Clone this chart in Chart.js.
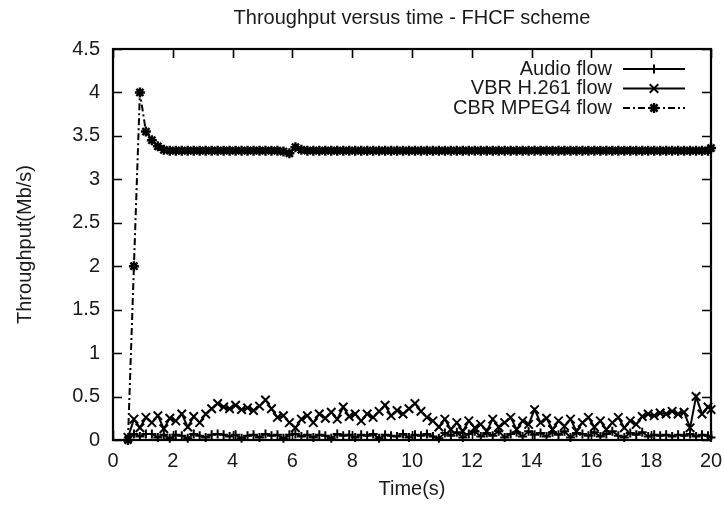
<!DOCTYPE html>
<html>
<head>
<meta charset="utf-8">
<script src="https://cdn.jsdelivr.net/npm/chart.js@4/dist/chart.umd.min.js"></script>
<style>
  html, body { margin: 0; padding: 0; background: #fff; }
  canvas { display: block; }
</style>
</head>
<body>
<canvas id="c" width="724" height="505"></canvas>
<script>
// ---- data ----
const chartTitle = 'Throughput versus time - FHCF scheme';
const xTitle = 'Time(s)';
const yTitle = 'Throughput(Mb/s)';
const seriesNames = ['Audio flow', 'VBR H.261 flow', 'CBR MPEG4 flow'];

const times = [
  0.5,0.7,0.9,1.1,1.3,1.5,1.7,1.9,2.1,2.3,
  2.5,2.7,2.9,3.1,3.3,3.5,3.7,3.9,4.1,4.3,
  4.5,4.7,4.9,5.1,5.3,5.5,5.7,5.9,6.1,6.3,
  6.5,6.7,6.9,7.1,7.3,7.5,7.7,7.9,8.1,8.3,
  8.5,8.7,8.9,9.1,9.3,9.5,9.7,9.9,10.1,10.3,
  10.5,10.7,10.9,11.1,11.3,11.5,11.7,11.9,12.1,12.3,
  12.5,12.7,12.9,13.1,13.3,13.5,13.7,13.9,14.1,14.3,
  14.5,14.7,14.9,15.1,15.3,15.5,15.7,15.9,16.1,16.3,
  16.5,16.7,16.9,17.1,17.3,17.5,17.7,17.9,18.1,18.3,
  18.5,18.7,18.9,19.1,19.3,19.5,19.7,19.9,20.0
];

const audioFlow = [
  0.00,0.07,0.04,0.07,0.07,0.03,0.06,0.02,0.06,0.05,
  0.02,0.07,0.05,0.03,0.06,0.07,0.06,0.04,0.06,0.02,
  0.05,0.06,0.03,0.07,0.05,0.06,0.02,0.06,0.07,0.04,
  0.06,0.03,0.06,0.05,0.02,0.07,0.05,0.06,0.03,0.06,
  0.05,0.07,0.02,0.06,0.05,0.04,0.07,0.03,0.06,0.05,
  0.07,0.04,0.02,0.08,0.05,0.09,0.03,0.07,0.10,0.04,
  0.08,0.05,0.10,0.03,0.07,0.09,0.04,0.10,0.06,0.08,
  0.04,0.09,0.06,0.10,0.03,0.08,0.07,0.05,0.09,0.04,
  0.07,0.10,0.05,0.03,0.08,0.06,0.09,0.04,0.06,0.05,
  0.06,0.04,0.06,0.05,0.07,0.04,0.06,0.05,0.03
];

const vbrFlow = [
  0.03,0.24,0.14,0.26,0.20,0.28,0.13,0.25,0.22,0.30,
  0.15,0.27,0.20,0.30,0.36,0.42,0.38,0.36,0.40,0.35,
  0.37,0.34,0.39,0.46,0.36,0.26,0.28,0.20,0.14,0.24,
  0.28,0.20,0.30,0.25,0.32,0.24,0.38,0.27,0.30,0.22,
  0.30,0.26,0.33,0.40,0.28,0.34,0.30,0.36,0.42,0.33,
  0.26,0.22,0.15,0.24,0.12,0.20,0.10,0.22,0.14,0.18,
  0.10,0.24,0.15,0.20,0.26,0.12,0.22,0.18,0.35,0.20,
  0.25,0.12,0.22,0.16,0.24,0.10,0.20,0.26,0.15,0.22,
  0.12,0.20,0.26,0.14,0.22,0.18,0.27,0.30,0.28,0.31,
  0.30,0.33,0.30,0.32,0.14,0.50,0.30,0.38,0.35
];

const cbrFlow = [
  0.00,2.00,4.00,3.55,3.45,3.38,3.34,3.33,3.33,3.33,
  3.33,3.33,3.33,3.33,3.33,3.33,3.33,3.33,3.33,3.33,
  3.33,3.33,3.33,3.33,3.33,3.33,3.32,3.30,3.37,3.34,
  3.33,3.33,3.33,3.33,3.33,3.33,3.33,3.33,3.33,3.33,
  3.33,3.33,3.33,3.33,3.33,3.33,3.33,3.33,3.33,3.33,
  3.33,3.33,3.33,3.33,3.33,3.33,3.33,3.33,3.33,3.33,
  3.33,3.33,3.33,3.33,3.33,3.33,3.33,3.33,3.33,3.33,
  3.33,3.33,3.33,3.33,3.33,3.33,3.33,3.33,3.33,3.33,
  3.33,3.33,3.33,3.33,3.33,3.33,3.33,3.33,3.33,3.33,
  3.33,3.33,3.33,3.33,3.33,3.33,3.33,3.33,3.36
];

const xMin = 0, xMax = 20, xStep = 2;
const yMin = 0, yMax = 4.5, yStep = 0.5;

// ---- chart ----
const FONT = "'Liberation Sans', Arial, Helvetica, sans-serif";
const TEXT = '#1a1a1a';
const pts = (vals) => vals.map((v, i) => ({ x: times[i], y: v }));
const fmt = (v) => String(Math.round(v * 100) / 100);

function drawMarker(ctx, style, x, y, r) {
  ctx.beginPath();
  if (style === 'cross' || style === 'star') {
    ctx.moveTo(x - r, y); ctx.lineTo(x + r, y);
    ctx.moveTo(x, y - r); ctx.lineTo(x, y + r);
  }
  if (style === 'crossRot' || style === 'star') {
    const d = r * 0.71;
    ctx.moveTo(x - d, y - d); ctx.lineTo(x + d, y + d);
    ctx.moveTo(x - d, y + d); ctx.lineTo(x + d, y - d);
  }
  ctx.stroke();
}

const framePlugin = {
  id: 'gnuFrame',
  afterDatasetsDraw(chart) {
    const { ctx, chartArea: a, scales } = chart;
    const xs = scales.x, ys = scales.y;
    ctx.save();
    ctx.strokeStyle = '#000';
    ctx.setLineDash([]);
    // inward ticks on all four sides
    ctx.lineWidth = 1.6;
    const tl = 9;
    ctx.beginPath();
    xs.ticks.forEach(t => {
      const px = Math.round(xs.getPixelForValue(t.value)) + 0.5;
      ctx.moveTo(px, a.bottom); ctx.lineTo(px, a.bottom - tl);
      ctx.moveTo(px, a.top); ctx.lineTo(px, a.top + tl);
    });
    ys.ticks.forEach(t => {
      const py = Math.round(ys.getPixelForValue(t.value)) + 0.5;
      ctx.moveTo(a.left, py); ctx.lineTo(a.left + tl, py);
      ctx.moveTo(a.right, py); ctx.lineTo(a.right - tl, py);
    });
    ctx.stroke();
    // border box
    ctx.lineWidth = 2.2;
    ctx.strokeRect(a.left, a.top, a.right - a.left, a.bottom - a.top);

    // legend (text right-aligned, sample on the right)
    const textRight = a.right - 99;
    const sx1 = a.right - 88, sx2 = a.right - 26;
    let ly = a.top + 20;
    ctx.font = '20px ' + FONT;
    ctx.textAlign = 'right';
    ctx.textBaseline = 'middle';
    chart.data.datasets.forEach(ds => {
      ctx.fillStyle = TEXT;
      ctx.fillText(ds.label, textRight, ly);
      ctx.strokeStyle = '#000';
      ctx.lineWidth = ds.borderWidth;
      ctx.setLineDash(ds.borderDash || []);
      ctx.beginPath(); ctx.moveTo(sx1, ly); ctx.lineTo(sx2, ly); ctx.stroke();
      ctx.setLineDash([]);
      ctx.lineWidth = ds.pointBorderWidth;
      drawMarker(ctx, ds.pointStyle, (sx1 + sx2) / 2, ly, ds.pointRadius);
      ly += 19.5;
    });
    ctx.restore();
  }
};

const commonDs = {
  borderColor: '#000',
  backgroundColor: '#000',
  pointBorderColor: '#000',
  pointBackgroundColor: 'rgba(0,0,0,0)',
  borderWidth: 2,
  pointBorderWidth: 2,
  pointRadius: 4.5,
  tension: 0,
  clip: false
};

new Chart(document.getElementById('c'), {
  type: 'line',
  data: {
    datasets: [
      Object.assign({}, commonDs, { label: seriesNames[0], data: pts(audioFlow), pointStyle: 'cross' }),
      Object.assign({}, commonDs, { label: seriesNames[1], data: pts(vbrFlow), pointStyle: 'crossRot', pointRadius: 6 }),
      Object.assign({}, commonDs, { label: seriesNames[2], data: pts(cbrFlow), pointStyle: 'star', pointRadius: 5, pointBorderWidth: 2.4, borderDash: [7, 3, 2, 3] })
    ]
  },
  options: {
    responsive: false,
    animation: false,
    devicePixelRatio: 1,
    layout: { padding: { left: 0, right: 13, top: 0, bottom: 0 } },
    plugins: {
      legend: { display: false },
      tooltip: { enabled: false },
      title: {
        display: true,
        text: chartTitle,
        fullSize: false,
        color: TEXT,
        font: { family: FONT, size: 20, weight: 'normal' },
        padding: { top: 6, bottom: 19 }
      }
    },
    scales: {
      x: {
        type: 'linear',
        min: xMin, max: xMax,
        grid: { display: false, drawTicks: true, tickLength: 9 },
        border: { display: false },
        ticks: { stepSize: xStep, padding: 0, color: TEXT, font: { family: FONT, size: 20 }, callback: fmt },
        title: { display: true, text: xTitle, color: TEXT, font: { family: FONT, size: 20 }, padding: { top: 0, bottom: 4 } },
        afterFit(s) { s.height = 65; }
      },
      y: {
        type: 'linear',
        min: yMin, max: yMax,
        grid: { display: false, drawTicks: true, tickLength: 13 },
        border: { display: false },
        ticks: { stepSize: yStep, padding: 0, color: TEXT, font: { family: FONT, size: 20 }, callback: fmt },
        title: { display: true, text: yTitle, color: TEXT, font: { family: FONT, size: 20 }, padding: { top: 13, bottom: 0 } },
        afterFit(s) { s.width = 113; }
      }
    }
  },
  plugins: [framePlugin]
});
</script>
</body>
</html>
